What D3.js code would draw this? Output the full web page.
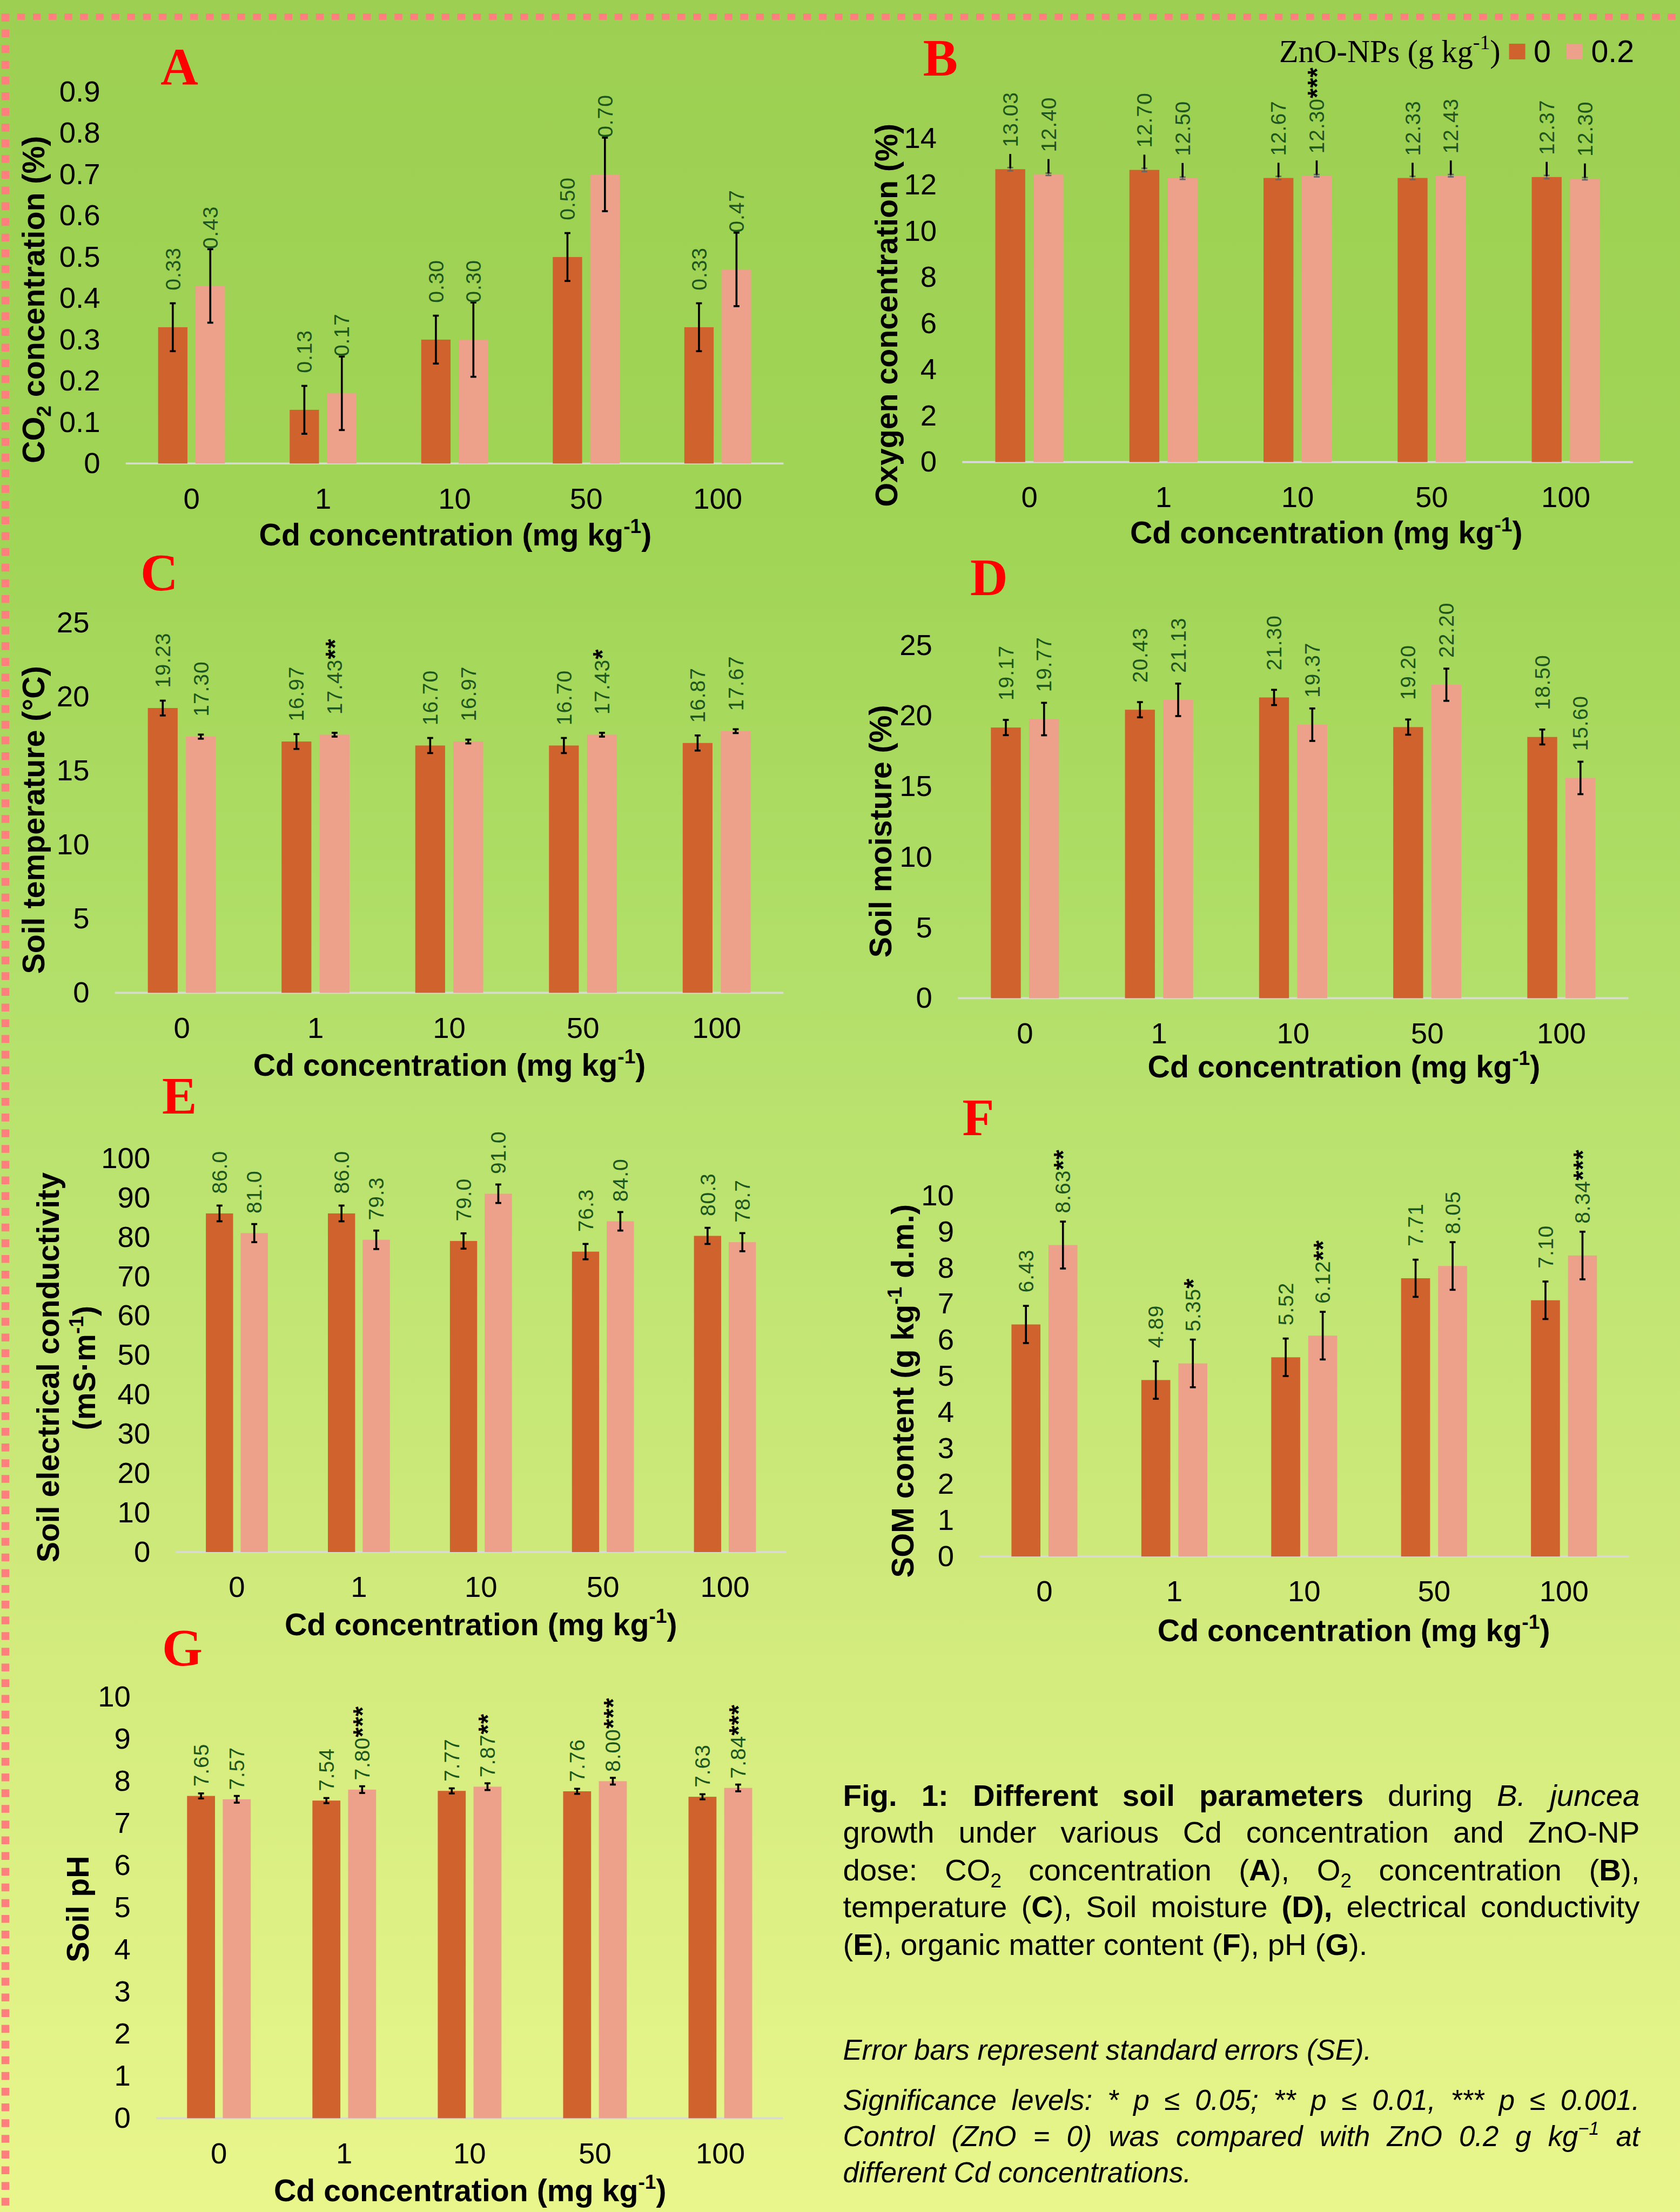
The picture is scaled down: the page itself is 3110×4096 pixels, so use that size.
<!DOCTYPE html>
<html>
<head>
<meta charset="utf-8">
<script src="https://cdn.jsdelivr.net/npm/d3@7"></script>
<style>
body { margin: 0; }
svg text { font-family: 'Liberation Sans', Arial, sans-serif; }
svg text.serif { font-family: 'Liberation Serif', 'Times New Roman', serif; }
</style>
</head>
<body>
<svg id="fig"></svg>
<script>
// categories and series
const cdLevels = ['0', '1', '10', '50', '100'];
const znoDoses = ['0', '0.2'];

// A: CO2 concentration (%)
const co2Control = [0.33, 0.13, 0.30, 0.50, 0.33];
const co2Zno = [0.43, 0.17, 0.30, 0.70, 0.47];
const co2ControlSe = [0.058, 0.058, 0.058, 0.058, 0.058];
const co2ZnoSe = [0.089, 0.089, 0.09, 0.089, 0.089];
const co2Stars = ['', '', '', '', ''];
const co2Ticks = [0, 0.1, 0.2, 0.3, 0.4, 0.5, 0.6, 0.7, 0.8, 0.9];

// B: oxygen concentration (%) - printed labels and drawn bar heights differ
const o2Control = [13.03, 12.70, 12.67, 12.33, 12.37];
const o2Zno = [12.40, 12.50, 12.30, 12.43, 12.30];
const o2ControlBars = [12.67, 12.64, 12.29, 12.29, 12.33];
const o2ZnoBars = [12.45, 12.28, 12.39, 12.39, 12.26];
const o2ControlSe = [0.07, 0.07, 0.07, 0.07, 0.07];
const o2ZnoSe = [0.05, 0.05, 0.05, 0.05, 0.05];
const o2Stars = ['', '', '***', '', ''];
const o2Ticks = [0, 2, 4, 6, 8, 10, 12, 14];

// C: soil temperature (°C)
const tempControl = [19.23, 16.97, 16.70, 16.70, 16.87];
const tempZno = [17.30, 17.43, 16.97, 17.43, 17.67];
const tempControlSe = [0.5, 0.5, 0.51, 0.51, 0.51];
const tempZnoSe = [0.14, 0.13, 0.13, 0.13, 0.13];
const tempStars = ['', '**', '', '*', ''];
const tempTicks = [0, 5, 10, 15, 20, 25];

// D: soil moisture (%)
const moistControl = [19.17, 20.43, 21.30, 19.20, 18.50];
const moistZno = [19.77, 21.13, 19.37, 22.20, 15.60];
const moistControlSe = [0.54, 0.54, 0.54, 0.54, 0.53];
const moistZnoSe = [1.15, 1.15, 1.15, 1.14, 1.15];
const moistStars = ['', '', '', '', ''];
const moistTicks = [0, 5, 10, 15, 20, 25];

// E: soil electrical conductivity (mS/m)
const ecControl = [86.0, 86.0, 79.0, 76.3, 80.3];
const ecZno = [81.0, 79.3, 91.0, 84.0, 78.7];
const ecControlSe = [2.0, 2.0, 1.95, 1.95, 2.05];
const ecZnoSe = [2.3, 2.35, 2.35, 2.35, 2.3];
const ecStars = ['', '', '', '', ''];
const ecTicks = [0, 10, 20, 30, 40, 50, 60, 70, 80, 90, 100];

// F: SOM content (g/kg d.m.)
const somControl = [6.43, 4.89, 5.52, 7.71, 7.10];
const somZno = [8.63, 5.35, 6.12, 8.05, 8.34];
const somControlSe = [0.515, 0.52, 0.52, 0.515, 0.52];
const somZnoSe = [0.65, 0.66, 0.66, 0.66, 0.66];
const somStars = ['**', '*', '**', '', '***'];
const somTicks = [0, 1, 2, 3, 4, 5, 6, 7, 8, 9, 10];

// G: soil pH
const phControl = [7.65, 7.54, 7.77, 7.76, 7.63];
const phZno = [7.57, 7.80, 7.87, 8.00, 7.84];
const phControlSe = [0.06, 0.06, 0.06, 0.06, 0.06];
const phZnoSe = [0.08, 0.08, 0.08, 0.08, 0.08];
const phStars = ['', '***', '**', '***', '***'];
const phTicks = [0, 1, 2, 3, 4, 5, 6, 7, 8, 9, 10];

// caption text
const captionLines = [
  [{t: 'Fig. 1: Different soil parameters', b: 1}, {t: ' during '}, {t: 'B. juncea', i: 1}],
  [{t: 'growth under various Cd concentration and ZnO-NP'}],
  [{t: 'dose: CO'}, {t: '2', sub: 1}, {t: ' concentration ('}, {t: 'A', b: 1}, {t: '), O'}, {t: '2', sub: 1},
   {t: ' concentration ('}, {t: 'B', b: 1}, {t: '),'}],
  [{t: 'temperature ('}, {t: 'C', b: 1}, {t: '), Soil moisture '}, {t: '(D),', b: 1}, {t: ' electrical conductivity'}],
  [{t: '('}, {t: 'E', b: 1}, {t: '), organic matter content ('}, {t: 'F', b: 1}, {t: '), pH ('}, {t: 'G', b: 1}, {t: ').'}]
];
const noteLines = [
  [{t: 'Error bars represent standard errors (SE).'}],
  [{t: 'Significance levels: * p ≤ 0.05; ** p ≤ 0.01, *** p ≤ 0.001.'}],
  [{t: 'Control (ZnO = 0) was compared with ZnO 0.2 g kg'}, {t: '\u22121', sup: 1}, {t: ' at'}],
  [{t: 'different Cd concentrations.'}]
];

const W = 3420, H = 4505;
const darkColor = '#d0622e', pinkColor = '#eda08a';
const xTitleRuns = [{t: 'Cd concentration (mg kg'}, {t: '-1', sup: 1}, {t: ')'}];

const svg = d3.select('#fig')
  .attr('width', 3110).attr('height', 4096)
  .attr('viewBox', `0 0 ${W} ${H}`)
  .attr('preserveAspectRatio', 'none');

// background
const grad = svg.append('defs').append('linearGradient')
  .attr('id', 'bg').attr('x1', 0).attr('y1', 0).attr('x2', 0).attr('y2', 1);
[['0%', '#9dd052'], ['25%', '#a1d556'], ['45%', '#b3e06a'], ['72%', '#d0ea7b'], ['100%', '#e9f68b']]
  .forEach(s => grad.append('stop').attr('offset', s[0]).attr('stop-color', s[1]));
svg.append('rect').attr('width', W).attr('height', H).attr('fill', 'url(#bg)');

// dashed frame
svg.append('line').attr('x1', 3).attr('x2', W).attr('y1', 34).attr('y2', 34)
  .attr('stroke', '#ff7f7f').attr('stroke-width', 13).attr('stroke-dasharray', '16,16');
svg.append('line').attr('x1', 11).attr('x2', 11).attr('y1', 28).attr('y2', H)
  .attr('stroke', '#ff7f7f').attr('stroke-width', 16).attr('stroke-dasharray', '16,16');

function addRuns(text, runs, size) {
  let shift = 0;
  runs.forEach(r => {
    const ts = text.append('tspan').text(r.t);
    let s = 0;
    if (r.sub) { s = size * 0.22; ts.attr('font-size', size * 0.65); }
    if (r.sup) { s = -size * 0.4; ts.attr('font-size', size * 0.65); }
    if (s !== shift) ts.attr('dy', s - shift);
    shift = s;
    if (r.b) ts.attr('font-weight', 'bold');
    if (r.i) ts.attr('font-style', 'italic');
  });
  return text;
}

function drawPanel(p) {
  const g = svg.append('g');
  const x0 = d3.scaleBand().domain(cdLevels).range([p.left, p.right]);
  const bw = x0.bandwidth();
  const x1 = d3.scaleBand().domain(znoDoses).range([bw * 0.246, bw * 0.754]).paddingInner(0.2175);
  const y = d3.scaleLinear().domain([0, p.max]).range([p.base, p.top]);

  // axes
  g.append('g').attr('transform', `translate(${p.left},0)`)
    .call(d3.axisLeft(y).tickValues(p.ticks).tickSize(0).tickPadding(52).tickFormat(d => String(+d.toFixed(2))))
    .call(a => a.select('.domain').remove())
    .attr('font-size', 60);
  g.append('g').attr('transform', `translate(0,${p.base})`)
    .call(d3.axisBottom(x0).tickSize(0).tickPadding(49))
    .call(a => a.select('.domain').remove())
    .attr('font-size', 60);
  g.append('line').attr('x1', p.left).attr('x2', p.right)
    .attr('y1', p.base).attr('y2', p.base)
    .attr('stroke', '#d9d9d9').attr('stroke-width', 4);

  const rows = [];
  cdLevels.forEach((cd, i) => {
    rows.push({cd, dose: '0', label: p.dark[i], bar: (p.darkBars || p.dark)[i], se: p.darkSe[i], star: '', color: darkColor});
    rows.push({cd, dose: '0.2', label: p.pink[i], bar: (p.pinkBars || p.pink)[i], se: p.pinkSe[i], star: p.stars[i], color: pinkColor});
  });
  const cx = d => x0(d.cd) + x1(d.dose) + x1.bandwidth() / 2;

  g.selectAll('rect.bar').data(rows).enter().append('rect')
    .attr('class', 'bar')
    .attr('x', d => x0(d.cd) + x1(d.dose))
    .attr('width', x1.bandwidth())
    .attr('y', d => y(d.bar))
    .attr('height', d => y(0) - y(d.bar))
    .attr('fill', d => d.color);

  // error bars
  const eb = g.selectAll('g.err').data(rows).enter().append('g').attr('class', 'err')
    .attr('stroke', p.leader ? '#666' : '#000').attr('stroke-width', p.leader ? 3 : 4);
  eb.append('line').attr('x1', cx).attr('x2', cx)
    .attr('y1', d => y(d.bar + d.se)).attr('y2', d => y(d.bar - d.se));
  eb.append('line').attr('x1', d => cx(d) - 6).attr('x2', d => cx(d) + 6)
    .attr('y1', d => y(d.bar + d.se)).attr('y2', d => y(d.bar + d.se));
  eb.append('line').attr('x1', d => cx(d) - 6).attr('x2', d => cx(d) + 6)
    .attr('y1', d => y(d.bar - d.se)).attr('y2', d => y(d.bar - d.se));
  if (p.leader) {
    g.selectAll('line.leader').data(rows).enter().append('line').attr('class', 'leader')
      .attr('x1', cx).attr('x2', cx)
      .attr('y1', d => y(d.bar) - 2).attr('y2', d => y(d.bar) - p.leader)
      .attr('stroke', '#000').attr('stroke-width', 4);
  }

  // value labels
  const lab = g.selectAll('text.val').data(rows).enter().append('text')
    .attr('class', 'val')
    .attr('x', cx).attr('y', d => y(d.bar) - p.lift)
    .attr('transform', d => `rotate(-90 ${cx(d)} ${y(d.bar) - p.lift})`)
    .attr('dy', '0.35em')
    .attr('font-size', 43).attr('letter-spacing', 1)
    .attr('fill', '#1d561d');
  lab.append('tspan').text(d => d.label.toFixed(p.decimals));
  lab.filter(d => d.star).append('tspan').text(d => d.star)
    .attr('fill', '#000').attr('font-weight', 'bold').attr('font-size', 52).attr('dy', 3);

  // titles
  addRuns(g.append('text')
    .attr('x', p.xTitle[0]).attr('y', p.xTitle[1])
    .attr('text-anchor', 'middle').attr('font-size', 63).attr('font-weight', 'bold'), xTitleRuns, 63);
  p.yTitle.forEach(yt => {
    addRuns(g.append('text')
      .attr('transform', `translate(${yt.x},${yt.y}) rotate(-90)`)
      .attr('text-anchor', 'middle').attr('dy', '0.35em')
      .attr('font-size', 63).attr('font-weight', 'bold'), yt.runs, 63);
  });
  g.append('text').attr('class', 'serif')
    .attr('x', p.letter[0]).attr('y', p.letter[1])
    .attr('font-size', 106).attr('font-weight', 'bold').attr('fill', '#ff0000')
    .text(p.id);
}

const panels = [
  {id: 'A', left: 256, right: 1595, base: 944, top: 187, max: 0.9, ticks: co2Ticks,
   dark: co2Control, pink: co2Zno, darkSe: co2ControlSe, pinkSe: co2ZnoSe, stars: co2Stars,
   lift: 75, decimals: 2, letter: [327, 172], xTitle: [927, 1111],
   yTitle: [{x: 68, y: 610, runs: [{t: 'CO'}, {t: '2', sub: 1}, {t: ' concentration (%)'}]}]},
  {id: 'B', left: 1959, right: 3324, base: 941, top: 282, max: 14, ticks: o2Ticks,
   dark: o2Control, pink: o2Zno, darkBars: o2ControlBars, pinkBars: o2ZnoBars,
   darkSe: o2ControlSe, pinkSe: o2ZnoSe, stars: o2Stars, leader: 31,
   lift: 45, decimals: 2, letter: [1879, 154], xTitle: [2700, 1107],
   yTitle: [{x: 1805, y: 642, runs: [{t: 'Oxygen concentration (%)'}]}]},
  {id: 'C', left: 234, right: 1595, base: 2022, top: 1268, max: 25, ticks: tempTicks,
   dark: tempControl, pink: tempZno, darkSe: tempControlSe, pinkSe: tempZnoSe, stars: tempStars,
   lift: 41, decimals: 2, letter: [286, 1202], xTitle: [915, 2191],
   yTitle: [{x: 68, y: 1670, runs: [{t: 'Soil temperature (°C)'}]}]},
  {id: 'D', left: 1950, right: 3315, base: 2033, top: 1314, max: 25, ticks: moistTicks,
   dark: moistControl, pink: moistZno, darkSe: moistControlSe, pinkSe: moistZnoSe, stars: moistStars,
   lift: 55, decimals: 2, letter: [1975, 1212], xTitle: [2736, 2194],
   yTitle: [{x: 1792, y: 1693, runs: [{t: 'Soil moisture (%)'}]}]},
  {id: 'E', left: 358, right: 1600, base: 3161, top: 2359, max: 100, ticks: ecTicks,
   dark: ecControl, pink: ecZno, darkSe: ecControlSe, pinkSe: ecZnoSe, stars: ecStars,
   lift: 40, decimals: 1, letter: [330, 2268], xTitle: [979, 3330],
   yTitle: [{x: 98, y: 2785, runs: [{t: 'Soil electrical conductivity'}]},
            {x: 172, y: 2786, runs: [{t: '(mS·m'}, {t: '-1', sup: 1}, {t: ')'}]}]},
  {id: 'F', left: 1994, right: 3316, base: 3170, top: 2435, max: 10, ticks: somTicks,
   dark: somControl, pink: somZno, darkSe: somControlSe, pinkSe: somZnoSe, stars: somStars,
   lift: 65, decimals: 2, letter: [1959, 2312], xTitle: [2756, 3342],
   yTitle: [{x: 1838, y: 2833, runs: [{t: 'SOM content (g kg'}, {t: '-1', sup: 1}, {t: ' d.m.)'}]}]},
  {id: 'G', left: 318, right: 1594, base: 4314, top: 3456, max: 10, ticks: phTicks,
   dark: phControl, pink: phZno, darkSe: phControlSe, pinkSe: phZnoSe, stars: phStars,
   lift: 19, decimals: 2, letter: [330, 3392], xTitle: [957, 4483],
   yTitle: [{x: 158, y: 3888, runs: [{t: 'Soil pH'}]}]}
];
panels.forEach(drawPanel);

// legend (panel B)
const leg = svg.append('g');
addRuns(leg.append('text').attr('class', 'serif').attr('x', 2604).attr('y', 126).attr('font-size', 64),
  [{t: 'ZnO-NPs (g kg'}, {t: '-1', sup: 1}, {t: ')'}], 64);
znoDoses.forEach((dose, i) => {
  const lx = [3072, 3189][i];
  leg.append('rect').attr('x', lx).attr('y', 89).attr('width', 33).attr('height', 32)
    .attr('fill', i ? pinkColor : darkColor);
  leg.append('text').attr('x', lx + 50).attr('y', 127).attr('font-size', 63).text(dose);
});

// caption
function captionLine(runs, y, size, italic, justify) {
  const x = 1716, width = 1622;
  const t = svg.append('text').attr('x', x).attr('y', y).attr('font-size', size);
  if (italic) t.attr('font-style', 'italic');
  addRuns(t, runs, size);
  if (justify) {
    const natural = t.node().getComputedTextLength();
    const gaps = runs.map(r => r.t).join('').split(' ').length - 1;
    t.attr('word-spacing', (width - natural) / gaps);
  }
}
const capBase = [3678, 3753, 3830, 3905, 3981];
captionLines.forEach((runs, i) => captionLine(runs, capBase[i], 62, false, i < 4));
const noteBase = [4195, 4297, 4371, 4444];
noteLines.forEach((runs, i) => captionLine(runs, noteBase[i], 58, true, i === 1 || i === 2));
</script>
</body>
</html>
